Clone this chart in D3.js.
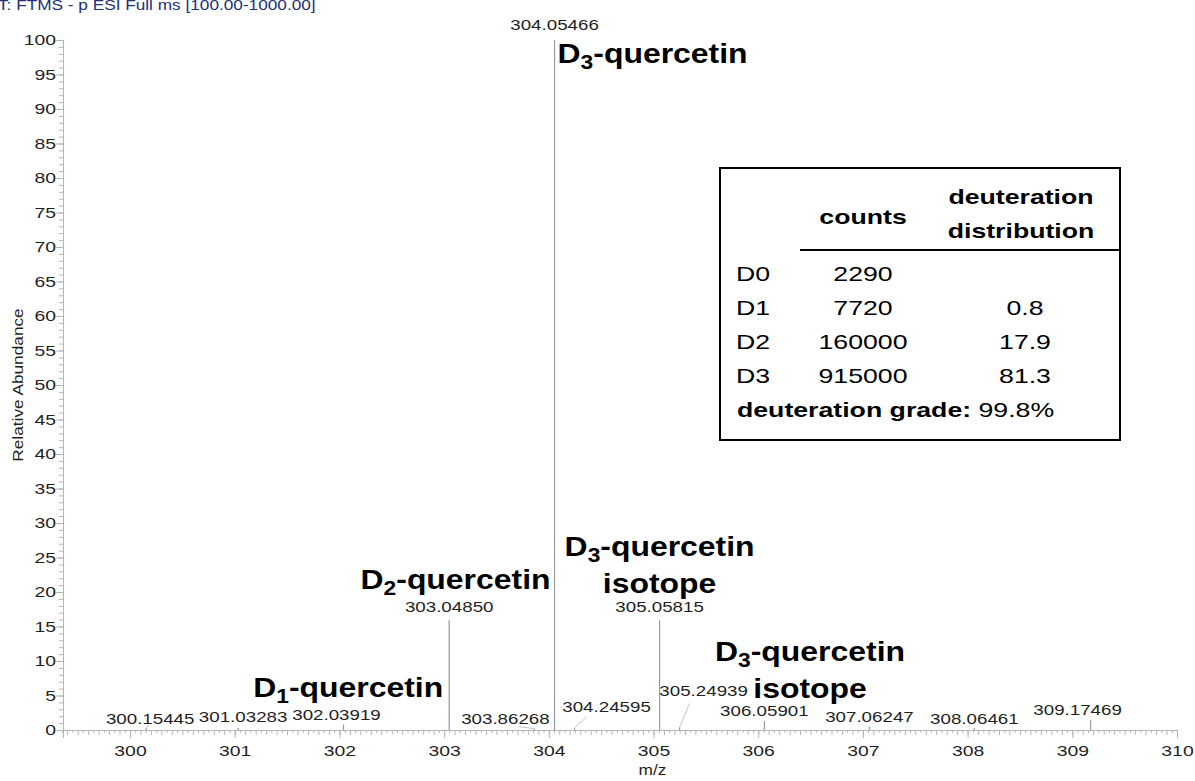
<!DOCTYPE html>
<html>
<head>
<meta charset="utf-8">
<script src="https://cdn.jsdelivr.net/npm/d3@7"></script>
<style>
  html, body { margin: 0; padding: 0; background: #fff; }
  svg { display: block; font-family: "Liberation Sans", Arial, sans-serif; }
</style>
</head>
<body>
<svg id="chart" width="1195" height="781"></svg>
<script>
// Centroid m/z values of the labelled peaks and their relative abundance (%)
const peakMz = [300.15445, 301.03283, 302.03919, 303.04850, 303.86268, 304.05466,
                304.24595, 305.05815, 305.24939, 306.05901, 307.06247, 308.06461, 309.17469];
const peakAbundance = [0.3, 0.3, 0.8, 15.9, 0.2, 100, 0.3, 15.9, 0.4, 1.3, 0.5, 0.3, 1.4];

// Isotopologue table
const tableRows = ["D0", "D1", "D2", "D3"];
const tableCounts = ["2290", "7720", "160000", "915000"];
const tableDistribution = ["", "0.8", "17.9", "81.3"];
const deuterationGrade = "99.8%";

// Axis ticks
const xTicks = [300, 301, 302, 303, 304, 305, 306, 307, 308, 309, 310];
const yTicks = [0, 5, 10, 15, 20, 25, 30, 35, 40, 45, 50, 55, 60, 65, 70, 75, 80, 85, 90, 95, 100];

// Label placement relative to each peak top: [dx, dy, leaderDx, leaderDy] (leader omitted when null)
const labelLayout = [
  [4, -4, 3, -3], [5, -6, null, null], [-7, -4.5, null, null], [0, -8, null, null],
  [-29, -5, -16, -2], [0, -10, null, null], [32, -16, 12, -11], [0, -8, null, null],
  [24, -31, 10, -24], [0, -5, null, null], [0, -4.5, null, null], [0, -4, null, null], [-13, -5, null, null]
];

const svg = d3.select("#chart");
const x = d3.scaleLinear().domain([299.36, 310]).range([63, 1177]);
const y = d3.scaleLinear().domain([0, 100]).range([730, 40]);

const axisColor = "#b5b5b5";
const textColor = "#1f1f1f";

// Text drawn slightly wide, as the instrument software renders it
function wideText(parent, px, py, str, size, sx, anchor) {
  return parent.append("text")
    .attr("transform", `translate(${px},${py}) scale(${sx},1)`)
    .attr("text-anchor", anchor || "start")
    .attr("font-size", size)
    .text(str);
}

// Scan header
wideText(svg, -2, 10, "T: FTMS - p ESI Full ms [100.00-1000.00]", 14, 1.23).attr("fill", "#22307a");

// Y axis
const tickSx = 1.25;
const gy = svg.append("g").attr("transform", `translate(${x.range()[0]},0)`);
gy.call(d3.axisLeft(y).tickValues(yTicks).tickSize(7).tickPadding(2).tickFormat(d3.format("d")));
gy.append("g").call(d3.axisLeft(y).tickValues(d3.range(0, 101, 1)).tickSize(4).tickFormat(""));
gy.selectAll("line, path").attr("stroke", axisColor);
gy.selectAll(".tick text")
  .attr("font-size", 15.5).attr("fill", textColor).attr("font-family", "Liberation Sans, Arial, sans-serif")
  .attr("x", -7 / tickSx).attr("transform", `scale(${tickSx},1)`);

// X axis
const gx = svg.append("g").attr("transform", `translate(0,${y(0)})`);
gx.call(d3.axisBottom(x).tickValues(xTicks).tickSize(8).tickPadding(7).tickFormat(d3.format("d")));
gx.append("g").call(d3.axisBottom(x).tickValues(d3.range(299.4, 310.001, 0.1)).tickSize(5).tickFormat(""));
gx.append("g").call(d3.axisBottom(x).tickValues(d3.range(299.35, 310.001, 0.1)).tickSize(3).tickFormat(""));
gx.selectAll("line, path").attr("stroke", axisColor);
gx.selectAll(".tick text")
  .attr("font-size", 15.5).attr("fill", textColor).attr("font-family", "Liberation Sans, Arial, sans-serif")
  .attr("transform", `scale(${tickSx},1)`);

// Axis titles
svg.append("text")
  .attr("transform", `translate(23,${y(50)}) rotate(-90) scale(1.15,1)`)
  .attr("text-anchor", "middle").attr("font-size", 15).attr("fill", textColor)
  .text("Relative Abundance");
wideText(svg, x(304.99), 775, "m/z", 15, 1.15, "middle").attr("fill", textColor);

// Peaks
const peaks = peakMz.map((mz, i) => ({ mz, ab: peakAbundance[i], lay: labelLayout[i] }));
svg.append("g").selectAll("line").data(peaks).join("line")
  .attr("x1", d => x(d.mz)).attr("x2", d => x(d.mz))
  .attr("y1", y(0)).attr("y2", d => y(d.ab))
  .attr("stroke", "#9a9a9a").attr("stroke-width", 1.2);

// Leader lines for labels pushed away from their peaks
svg.append("g").selectAll("line").data(peaks.filter(d => d.lay[2] !== null)).join("line")
  .attr("x1", d => x(d.mz)).attr("y1", d => y(d.ab))
  .attr("x2", d => x(d.mz) + d.lay[2]).attr("y2", d => y(d.ab) + d.lay[3])
  .attr("stroke", "#c4c4c4").attr("stroke-width", 1);

const peakLabels = svg.append("g").attr("fill", textColor);
peaks.forEach(d => {
  wideText(peakLabels, x(d.mz) + d.lay[0], y(d.ab) + d.lay[1], d.mz.toFixed(5), 15, 1.25, "middle");
});

// Species annotations
function annotate(lines, ax, ay, anchor) {
  const g = svg.append("g").attr("transform", `translate(${ax},${ay}) scale(1.14,1)`);
  lines.forEach((ln, i) => {
    const t = g.append("text")
      .attr("x", ln.dx || 0).attr("y", i * 37)
      .attr("text-anchor", anchor)
      .attr("font-size", 28).attr("font-weight", "bold").attr("fill", "#000");
    ln.parts.forEach(part => {
      const s = t.append("tspan").text(part.t);
      if (part.sub) s.attr("font-size", 20).attr("dy", 6);
      if (part.after) s.attr("dy", -6);
    });
  });
}
const dq = n => ({ parts: [{ t: "D" }, { t: n, sub: true }, { t: "-quercetin", after: true }] });
annotate([dq("3")], x(304.05466) + 3, 63, "start");
annotate([dq("2")], x(304.05466) - 4, 589, "end");
annotate([dq("3"), { parts: [{ t: "isotope" }] }], x(305.05815), 556, "middle");
annotate([dq("1")], x(303.0485) - 6, 697, "end");
annotate([dq("3"), { parts: [{ t: "isotope" }] }], 810, 661, "middle");

// Isotopologue summary table
const tSx = 1.27, tFs = 21;
const tbl = svg.append("g").attr("fill", "#000");
tbl.append("rect")
  .attr("x", 720).attr("y", 168).attr("width", 400).attr("height", 272)
  .attr("fill", "#fff").attr("stroke", "#000").attr("stroke-width", 2);
tbl.append("line").attr("x1", 800).attr("x2", 1120).attr("y1", 250).attr("y2", 250)
  .attr("stroke", "#000").attr("stroke-width", 2);
wideText(tbl, 863, 224, "counts", tFs, tSx, "middle").attr("font-weight", "bold");
wideText(tbl, 1021, 204, "deuteration", tFs, tSx, "middle").attr("font-weight", "bold");
wideText(tbl, 1021, 238, "distribution", tFs, tSx, "middle").attr("font-weight", "bold");
tableRows.forEach((r, i) => {
  const ry = 281 + i * 34;
  wideText(tbl, 753, ry, r, tFs, tSx, "middle");
  wideText(tbl, 863, ry, tableCounts[i], tFs, tSx, "middle");
  wideText(tbl, 1025, ry, tableDistribution[i], tFs, tSx, "middle");
});
const grade = tbl.append("text")
  .attr("transform", `translate(737,417) scale(${tSx},1)`).attr("font-size", tFs);
grade.append("tspan").attr("font-weight", "bold").text("deuteration grade: ");
grade.append("tspan").text(deuterationGrade);
</script>
</body>
</html>
